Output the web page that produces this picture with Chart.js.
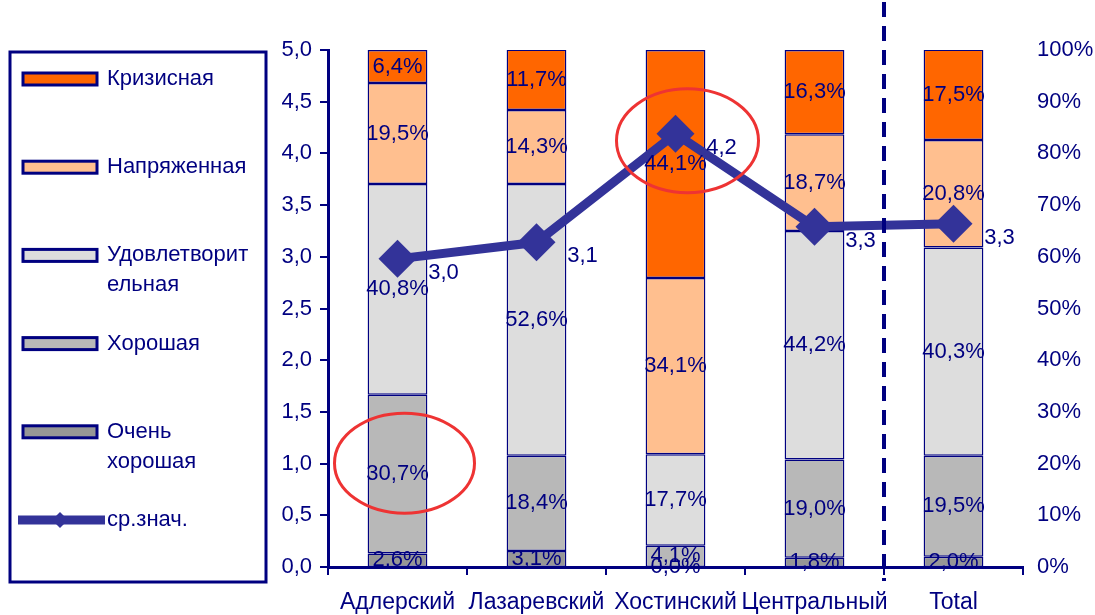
<!DOCTYPE html>
<html lang="ru">
<head>
<meta charset="utf-8">
<title>Оценка ситуации по районам</title>
<script src="https://cdn.jsdelivr.net/npm/chart.js@4.4.1/dist/chart.umd.min.js"></script>
<style>
    html, body { margin: 0; padding: 0; background: #ffffff; }
    canvas { display: block; }
</style>
</head>
<body>
<canvas id="chart-raiony" width="1095" height="615"></canvas>
<script>
/* ==========================================
   ДАННЫЕ
   ========================================== */

const raiony = ['Адлерский', 'Лазаревский', 'Хостинский', 'Центральный', 'Total'];

// Доли оценок, % (снизу вверх в столбце)
const ochenKhoroshaya = [2.6, 3.1, 0.0, 1.8, 2.0];
const khoroshaya      = [30.7, 18.4, 4.1, 19.0, 19.5];
const udovletvor      = [40.8, 52.6, 17.7, 44.2, 40.3];
const napryazhennaya  = [19.5, 14.3, 34.1, 18.7, 20.8];
const krizisnaya      = [6.4, 11.7, 44.1, 16.3, 17.5];

// Среднее значение (левая ось, 0..5)
const srZnach = [2.98, 3.14, 4.19, 3.29, 3.32];

const nazvaniya = ['Очень хорошая', 'Хорошая', 'Удовлетворительная', 'Напряженная', 'Кризисная'];
const nazvanieLinii = 'ср.знач.';

/* ==========================================
   СТИЛЬ
   ========================================== */

const NAVY = '#000080';
const LINIA = '#333399';
const KRASNIY = '#ee3333';
const SHRIFT = '"Liberation Sans", Arial, sans-serif';
const tsveta = ['#969696', '#b8b8b8', '#dddddd', '#ffbf8f', '#ff6600'];

const fmt = v => v.toFixed(1).replace('.', ',');

// перенос подписи легенды: по словам, длинные слова режем по 12 символов
function razbit(text, maxChars) {
    const out = [];
    let cur = '';
    text.split(' ').forEach(w => {
        while (w.length > maxChars) {
            if (cur) { out.push(cur); cur = ''; }
            out.push(w.slice(0, maxChars));
            w = w.slice(maxChars);
        }
        if (!cur) cur = w;
        else if ((cur + ' ' + w).length <= maxChars) cur += ' ' + w;
        else { out.push(cur); cur = w; }
    });
    if (cur) out.push(cur);
    return out;
}

/* ==========================================
   ПЛАГИНЫ: подписи, легенда, пометки
   ========================================== */

const podpisi = {
    id: 'podpisi',
    afterDatasetsDraw(chart) {
        const ctx = chart.ctx;
        ctx.save();
        ctx.font = '22px ' + SHRIFT;
        ctx.fillStyle = NAVY;
        ctx.textAlign = 'center';
        ctx.textBaseline = 'middle';
        chart.data.datasets.forEach((ds, i) => {
            const meta = chart.getDatasetMeta(i);
            meta.data.forEach((el, j) => {
                if (ds.type === 'bar') {
                    ctx.fillText(fmt(ds.data[j]) + '%', el.x, (el.y + el.base) / 2);
                } else {
                    ctx.fillText(fmt(ds.data[j]), el.x + 46, el.y + 14);
                }
            });
        });
        ctx.restore();
    }
};

const legenda = {
    id: 'legenda',
    afterDraw(chart) {
        const ctx = chart.ctx;
        ctx.save();
        ctx.strokeStyle = NAVY;
        ctx.lineWidth = 3;
        ctx.strokeRect(10, 52, 256, 530);

        ctx.font = '22px ' + SHRIFT;
        ctx.textAlign = 'left';
        ctx.textBaseline = 'middle';

        const stolbtsy = chart.data.datasets.filter(d => d.type === 'bar').slice().reverse();
        const liniya = chart.data.datasets.find(d => d.type === 'line');
        const items = stolbtsy.concat([liniya]);

        items.forEach((ds, i) => {
            const y = 79 + i * 88.2;
            if (ds.type === 'bar') {
                ctx.fillStyle = ds.backgroundColor;
                ctx.fillRect(23, y - 6, 74, 12);
                ctx.lineWidth = 3;
                ctx.strokeStyle = NAVY;
                ctx.strokeRect(23, y - 6, 74, 12);
            } else {
                ctx.strokeStyle = ds.borderColor;
                ctx.lineWidth = 9;
                ctx.beginPath();
                ctx.moveTo(18, y);
                ctx.lineTo(105, y);
                ctx.stroke();
                ctx.fillStyle = ds.borderColor;
                ctx.beginPath();
                ctx.moveTo(60, y - 8);
                ctx.lineTo(68, y);
                ctx.lineTo(60, y + 8);
                ctx.lineTo(52, y);
                ctx.closePath();
                ctx.fill();
            }
            ctx.fillStyle = NAVY;
            razbit(ds.label, 12).forEach((t, k) => ctx.fillText(t, 107, y + k * 30));
        });
        ctx.restore();
    }
};

const pometki = {
    id: 'pometki',
    afterDraw(chart) {
        const ctx = chart.ctx;
        const xs = chart.scales.x;
        const area = chart.chartArea;
        ctx.save();

        // пунктир перед "Total"
        const xr = (xs.getPixelForValue(3) + xs.getPixelForValue(4)) / 2;
        ctx.strokeStyle = NAVY;
        ctx.lineWidth = 4;
        ctx.setLineDash([15, 9]);
        ctx.beginPath();
        ctx.moveTo(xr, 2);
        ctx.lineTo(xr, area.bottom + 14);
        ctx.stroke();
        ctx.setLineDash([]);

        // красные овалы
        ctx.strokeStyle = KRASNIY;
        ctx.lineWidth = 3;
        const iLin = chart.data.datasets.findIndex(d => d.type === 'line');
        const pt = chart.getDatasetMeta(iLin).data[2];
        ctx.beginPath();
        ctx.ellipse(pt.x + 12, pt.y + 7, 71, 52, 0, 0, Math.PI * 2);
        ctx.stroke();

        const iKhor = chart.data.datasets.findIndex(d => d.label === 'Хорошая');
        const bar = chart.getDatasetMeta(iKhor).data[0];
        ctx.beginPath();
        ctx.ellipse(bar.x + 7, (bar.y + bar.base) / 2 - 11, 70, 50, 0, 0, Math.PI * 2);
        ctx.stroke();

        ctx.restore();
    }
};

/* ==========================================
   ГРАФИК
   ========================================== */

const stolbtsyDannye = [ochenKhoroshaya, khoroshaya, udovletvor, napryazhennaya, krizisnaya];

const barDatasets = stolbtsyDannye.map((data, i) => ({
    type: 'bar',
    label: nazvaniya[i],
    data: data,
    backgroundColor: tsveta[i],
    borderColor: NAVY,
    borderWidth: 1.5,
    borderSkipped: false,
    yAxisID: 'y2',
    order: 1,
    barPercentage: 0.43,
    categoryPercentage: 1
}));

const lineDataset = {
    type: 'line',
    label: nazvanieLinii,
    data: srZnach,
    borderColor: LINIA,
    backgroundColor: LINIA,
    borderWidth: 9,
    pointStyle: 'rectRot',
    pointRadius: 19,
    pointBorderWidth: 0,
    pointBackgroundColor: LINIA,
    tension: 0,
    yAxisID: 'y',
    order: 0
};

Chart.defaults.font.family = SHRIFT;
Chart.defaults.color = NAVY;

const ctxRaiony = document.getElementById('chart-raiony');
new Chart(ctxRaiony, {
    data: {
        labels: raiony,
        datasets: [lineDataset, ...barDatasets]
    },
    options: {
        responsive: false,
        animation: false,
        layout: { padding: { left: 278, right: 0, top: 50, bottom: 0 } },
        plugins: {
            legend: { display: false },
            tooltip: { enabled: false }
        },
        scales: {
            x: {
                stacked: true,
                offset: true,
                border: { color: NAVY, width: 3 },
                grid: { offset: true, drawOnChartArea: false, drawTicks: true, tickLength: 8, color: NAVY, lineWidth: 2 },
                ticks: { autoSkip: false, maxRotation: 0, padding: 14, color: NAVY, font: { size: 23 } },
                afterFit: s => { s.height = 48; }
            },
            y: {
                position: 'left',
                min: 0,
                max: 5,
                border: { color: NAVY, width: 3 },
                grid: { drawOnChartArea: false, drawTicks: true, tickLength: 8, color: NAVY, lineWidth: 2 },
                ticks: { stepSize: 0.5, padding: 8, color: NAVY, font: { size: 22 }, callback: v => fmt(v) },
                afterFit: s => { s.width = 50; }
            },
            y2: {
                position: 'right',
                stacked: true,
                min: 0,
                max: 100,
                border: { display: false },
                grid: { display: false, drawTicks: false },
                ticks: { stepSize: 10, padding: 14, color: NAVY, font: { size: 22 }, callback: v => v + '%' },
                afterFit: s => { s.width = 72; }
            }
        }
    },
    plugins: [podpisi, pometki, legenda]
});
</script>
</body>
</html>
